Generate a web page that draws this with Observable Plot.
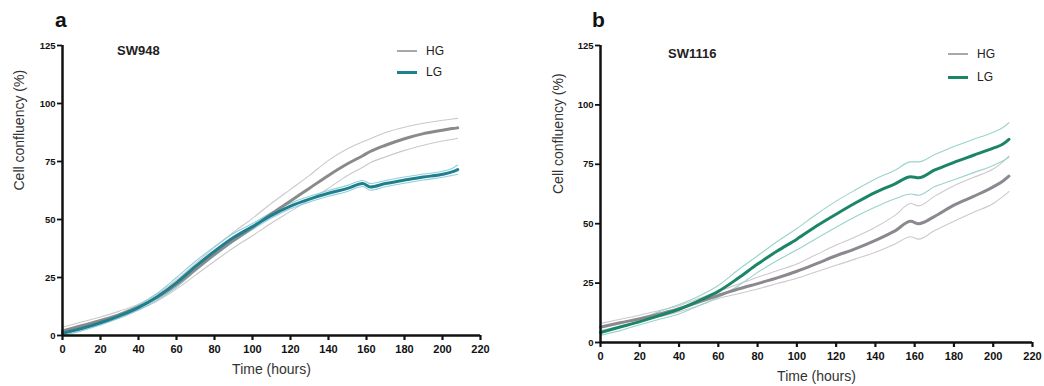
<!DOCTYPE html>
<html><head><meta charset="utf-8">
<script src="https://cdn.jsdelivr.net/npm/d3@7"></script>
<script src="https://cdn.jsdelivr.net/npm/@observablehq/plot@0.6"></script>
<style>
body{margin:0;background:#fff;font-family:"Liberation Sans",Arial,sans-serif}
#wrap{position:relative;width:1044px;height:386px;overflow:hidden;background:#fff}
.panel{position:absolute;top:0;overflow:visible}
.t{position:absolute;white-space:nowrap;color:#111;line-height:1}
.letter{font-size:21px;font-weight:bold}
.cell{font-size:13px;font-weight:bold;color:#222}
.leg{position:absolute;display:flex;align-items:center;font-size:12px;color:#222;line-height:1}
.leg span.sw{display:inline-block;width:20px;margin-right:9px}
</style></head>
<body><div id="wrap"></div>
<script>
// Time points (hours)
const time = [0,10,20,30,40,50,60,70,80,90,100,110,120,130,140,150,158,162,170,180,190,200,205,208];
const xTicks = [0,20,40,60,80,100,120,140,160,180,200,220];
const yTicks = [0,25,50,75,100,125];
const seriesNames = ["HG","LG"];

// Panel a — SW948
const aHG_mean  = [2.0,4.2,6.5,9.0,12.3,16.5,22,28.5,35,41,46.5,52.5,58,63.5,69,74,77.5,79.3,82,84.8,87,88.5,89.2,89.5];
const aHG_upper = [3.5,5.8,8.0,10.5,13.5,18,24,31,38,44.5,50.5,57,63,69,75.5,80.5,83.5,84.8,87.5,89.8,91.5,92.8,93.3,93.6];
const aHG_lower = [0.5,2.8,5.0,7.5,11,15,20,26,32,37.8,43,48.5,53.5,58.5,63.5,69,72.5,74.5,77,79.8,82,83.8,84.5,85];
const aLG_mean  = [1.0,3.0,5.5,8.5,12,16.8,22.8,29.8,36.3,42.2,47,51.8,55.8,58.8,61.3,63.4,65.5,64,65.5,67,68.3,69.5,70.5,71.5];
const aLG_upper = [2.0,4.0,6.5,9.5,13.2,18.3,25,32,38.3,44,48.3,53,57,60,62.5,64.7,66.8,65.5,66.8,68.3,69.6,70.8,72,73.5];
const aLG_lower = [0,2.0,4.5,7.5,11,15.3,20.8,27.8,34.3,40.4,45.7,50.6,54.6,57.6,60,62.1,64.2,62.6,64.1,65.6,67,68.2,69,69.5];

// Panel b — SW1116
const bHG_mean  = [6.5,8.3,10,12,14.2,17,19.8,22.5,24.8,27.2,30,33.2,36.5,39.5,43,47,51,50,53,57.8,61.5,65.5,68,70];
const bHG_upper = [8,9.8,11.5,13.5,15.5,18.5,21.5,24.5,27.5,30.2,33,37,41,44.5,48.5,53.5,58.5,57.5,61.5,66,69.5,73,76,78.5];
const bHG_lower = [5,6.8,8.8,10.8,13,15.5,18.5,20.5,22.5,24.8,27,29.8,32.5,35.2,38,41.5,44.5,43.5,47,51,54.8,58.5,61.5,63.5];
const bLG_mean  = [4.2,6.5,8.8,11.3,14,17.5,21.5,27,33,38.5,43.5,49,54,58.8,63.2,66.8,69.8,69.3,72.5,75.8,78.8,81.8,83.5,85.5];
const bLG_upper = [6,8,10,13,16,19.5,24,30.5,36.5,42.5,48,54,59.5,64.3,68.8,72.5,76,76,79,82.5,85.5,88.5,90.5,92.5];
const bLG_lower = [3,5,7.5,9.8,12,15.5,19,23.8,29.5,34.5,39,43.8,48.5,53,57,60.5,62.5,62,65.5,68.5,71.5,74.5,76.5,78];

const rows = (vals) => time.map((t, i) => ({t, v: vals[i]}));

function panel(cfg) {
  const lineOpts = (stroke, w, op = 1) => ({x: "t", y: "v", stroke, strokeWidth: w, strokeOpacity: op, curve: "monotone-x"});
  return Plot.plot({
    width: cfg.width, height: 386,
    marginTop: 45, marginLeft: cfg.ml, marginRight: cfg.mr, marginBottom: cfg.mb,
    x: {domain: [0, 220]},
    y: {domain: [0, 125]},
    style: {fontFamily: "Liberation Sans, Arial, sans-serif", background: "white", color: "#111", overflow: "visible"},
    marks: [
      Plot.line(rows(cfg.hgU), lineOpts(cfg.hgLight, 1.1)),
      Plot.line(rows(cfg.hgL), lineOpts(cfg.hgLight, 1.1)),
      Plot.line(rows(cfg.lgU), lineOpts(cfg.lgLight, 1.1)),
      Plot.line(rows(cfg.lgL), lineOpts(cfg.lgLight, 1.1)),
      Plot.line(rows(cfg.hgM), lineOpts(cfg.hgColor, 3)),
      Plot.line(rows(cfg.lgM), lineOpts(cfg.lgColor, 3)),
      Plot.axisX({ticks: xTicks, tickSize: 5, tickPadding: 5, strokeWidth: 2.2, fontSize: 11, fontWeight: "bold", label: null, stroke: "#111"}),
      Plot.axisY({ticks: yTicks, tickSize: 5, tickPadding: 2, strokeWidth: 1.8, fontSize: 9.5, fontWeight: "bold", label: null, stroke: "#111"}),
      Plot.ruleX([0], {stroke: "#111", strokeWidth: 2.5}),
      Plot.ruleY([0], {stroke: "#111", strokeWidth: 2.5}),
      Plot.text(["Time (hours)"], {frameAnchor: "bottom", dy: 38, fontSize: 14, fill: "#333"}),
      Plot.text(["Cell confluency (%)"], {frameAnchor: "left", dx: cfg.ytdx, rotate: -90, fontSize: 14, fill: "#333"})
    ]
  });
}

const wrap = document.getElementById("wrap");

const pa = panel({width: 520, ml: 62, mr: 40, mb: 51, ytdx: -43,
  hgM: aHG_mean, hgU: aHG_upper, hgL: aHG_lower, lgM: aLG_mean, lgU: aLG_upper, lgL: aLG_lower,
  hgColor: "#8a8a8a", hgLight: "#c9c9c9", lgColor: "#1f7f8f", lgLight: "#8fd0dc"});
pa.classList.add("panel"); pa.style.left = "0px";
wrap.appendChild(pa);

const pb = panel({width: 514, ml: 70, mr: 12, mb: 44, ytdx: -42,
  hgM: bHG_mean, hgU: bHG_upper, hgL: bHG_lower, lgM: bLG_mean, lgU: bLG_upper, lgL: bLG_lower,
  hgColor: "#8d8890", hgLight: "#cfc8cc", lgColor: "#1b8567", lgLight: "#98d4cc"});
pb.classList.add("panel"); pb.style.left = "530px";
wrap.appendChild(pb);

function addText(txt, cls, left, top) {
  const d = document.createElement("div");
  d.className = "t " + cls; d.textContent = txt;
  d.style.left = left + "px"; d.style.top = top + "px";
  wrap.appendChild(d);
}
addText("a", "letter", 55, 9);
addText("b", "letter", 592, 9);
addText("SW948", "cell", 117, 44);
addText("SW1116", "cell", 668, 47);

function addLegend(left, top, name, color, h) {
  const d = document.createElement("div");
  d.className = "leg";
  d.style.left = left + "px"; d.style.top = top + "px";
  const sw = document.createElement("span");
  sw.className = "sw"; sw.style.height = h + "px"; sw.style.background = color;
  const s = document.createElement("span"); s.textContent = name;
  d.appendChild(sw); d.appendChild(s);
  wrap.appendChild(d);
}
addLegend(397, 45, seriesNames[0], "#a8a8a8", 2);
addLegend(397, 66, seriesNames[1], "#1f7f8f", 3);
addLegend(948, 48, seriesNames[0], "#aaa6aa", 2);
addLegend(948, 71, seriesNames[1], "#1b8567", 3);
</script>
</body></html>
